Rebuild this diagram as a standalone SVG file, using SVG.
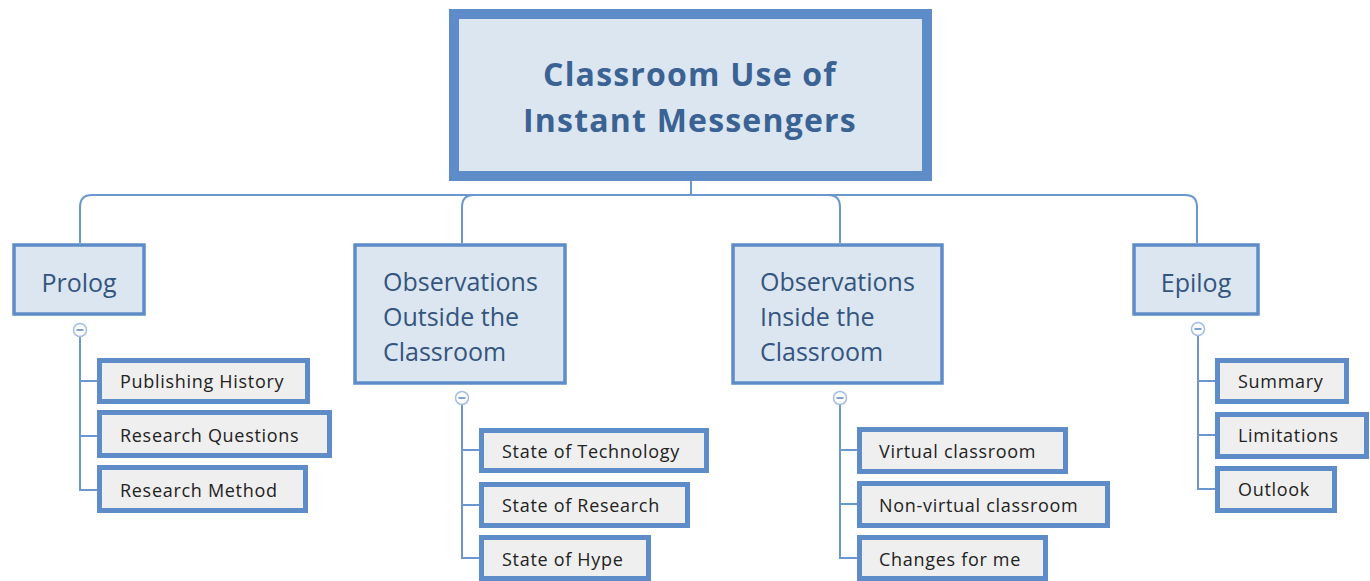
<svg xmlns="http://www.w3.org/2000/svg" width="1370" height="581" viewBox="0 0 1370 581">
<style>
.conn{fill:none;stroke:#6b97cf;stroke-width:2}
.root{fill:#dce6f1;stroke:#5d8cc8;stroke-width:10}
.main{fill:#dce6f1;stroke:#5d8cc8;stroke-width:3.5}
.sub{fill:#efefef;stroke:#5d8cc8;stroke-width:5}
.rt{font-family:"Open Sans","Liberation Sans",sans-serif;font-weight:bold;font-size:32px;fill:#3a6293;text-anchor:middle;letter-spacing:1.2px}
.mt{font-family:"Open Sans","Liberation Sans",sans-serif;font-size:25px;fill:#34557f}
.st{font-family:"Open Sans","Liberation Sans",sans-serif;font-size:18px;fill:#222;letter-spacing:0.7px}
.tog{fill:#fff;stroke:#a3bde2;stroke-width:1.5}
.togm{stroke:#7ea2d6;stroke-width:2}
</style>
<g id="connectors">
<path class="conn" d="M691,181 V195"/>
<path class="conn" d="M80,243 V207 Q80,195 92,195 H1185 Q1197,195 1197,207 V243"/>
<path class="conn" d="M462,243 V207 Q462,195 474,195"/>
<path class="conn" d="M828,195 Q840,195 840,207 V243"/>
<path class="conn" d="M80,337 V490 H98 M80,381 H98 M80,436 H98"/>
<path class="conn" d="M462,405 V558 H479 M462,450 H479 M462,505 H479"/>
<path class="conn" d="M840,405 V558 H857 M840,450 H857 M840,504 H857"/>
<path class="conn" d="M1198,336 V489 H1215 M1198,381 H1215 M1198,435 H1215"/>
</g>
<g id="root">
<rect class="root" x="454" y="14" width="473" height="162"/>
<text class="rt" x="690" y="86">Classroom Use of</text>
<text class="rt" x="690" y="132">Instant Messengers</text>
</g>
<g id="prolog">
<rect class="main" x="14" y="245" width="130" height="69"/>
<text class="mt" x="79" y="292" text-anchor="middle">Prolog</text>
<circle class="tog" cx="80" cy="330" r="6.5"/><line class="togm" x1="76.5" y1="330" x2="83.5" y2="330"/>
</g>
<g id="obs-outside">
<rect class="main" x="355" y="245" width="210" height="138"/>
<text class="mt" x="383" y="291">Observations</text>
<text class="mt" x="383" y="326">Outside the</text>
<text class="mt" x="383" y="361">Classroom</text>
<circle class="tog" cx="462" cy="398" r="6.5"/><line class="togm" x1="458.5" y1="398" x2="465.5" y2="398"/>
</g>
<g id="obs-inside">
<rect class="main" x="733" y="245" width="209" height="138"/>
<text class="mt" x="760" y="291">Observations</text>
<text class="mt" x="760" y="326">Inside the</text>
<text class="mt" x="760" y="361">Classroom</text>
<circle class="tog" cx="840" cy="398" r="6.5"/><line class="togm" x1="836.5" y1="398" x2="843.5" y2="398"/>
</g>
<g id="epilog">
<rect class="main" x="1134" y="245" width="124" height="69"/>
<text class="mt" x="1196" y="292" text-anchor="middle">Epilog</text>
<circle class="tog" cx="1198" cy="329" r="6.5"/><line class="togm" x1="1194.5" y1="329" x2="1201.5" y2="329"/>
</g>
<g id="publishing-history"><rect class="sub" x="99.5" y="360.5" width="208" height="41"/><text class="st" x="120" y="388">Publishing History</text></g>
<g id="research-questions"><rect class="sub" x="99.5" y="412.5" width="230" height="43"/><text class="st" x="120" y="442">Research Questions</text></g>
<g id="research-method"><rect class="sub" x="99.5" y="467.5" width="206" height="43"/><text class="st" x="120" y="497">Research Method</text></g>
<g id="state-technology"><rect class="sub" x="481.5" y="430.5" width="225" height="40"/><text class="st" x="502" y="458">State of Technology</text></g>
<g id="state-research"><rect class="sub" x="481.5" y="484.5" width="206" height="41"/><text class="st" x="502" y="512">State of Research</text></g>
<g id="state-hype"><rect class="sub" x="481.5" y="537.5" width="167" height="41"/><text class="st" x="502" y="566">State of Hype</text></g>
<g id="virtual-classroom"><rect class="sub" x="859.5" y="429.5" width="206" height="42"/><text class="st" x="879" y="458">Virtual classroom</text></g>
<g id="non-virtual-classroom"><rect class="sub" x="859.5" y="483.5" width="248" height="42"/><text class="st" x="879" y="512">Non-virtual classroom</text></g>
<g id="changes-for-me"><rect class="sub" x="859.5" y="537.5" width="186" height="41"/><text class="st" x="879" y="566">Changes for me</text></g>
<g id="summary"><rect class="sub" x="1217.5" y="360.5" width="129" height="41"/><text class="st" x="1238" y="388">Summary</text></g>
<g id="limitations"><rect class="sub" x="1217.5" y="414.5" width="149" height="42"/><text class="st" x="1238" y="442">Limitations</text></g>
<g id="outlook"><rect class="sub" x="1217.5" y="468.5" width="117" height="42"/><text class="st" x="1238" y="496">Outlook</text></g>
</svg>
